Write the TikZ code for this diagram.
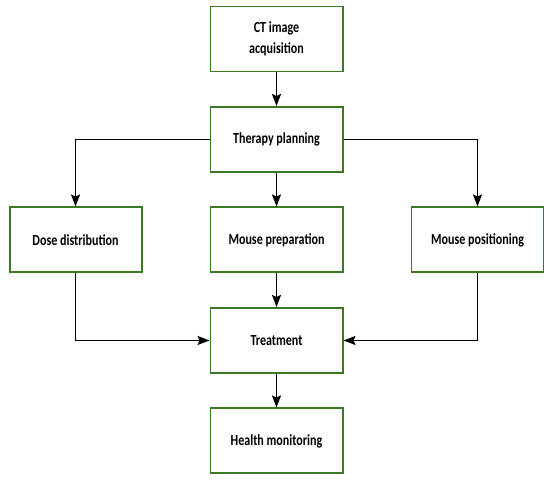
\documentclass[tikz,border=0pt]{standalone}
\usepackage{fontspec}
\setmainfont{Carlito}[FakeStretch=0.78]
\usetikzlibrary{arrows.meta,positioning}
\definecolor{BoxGreen}{HTML}{3B7A23}
\tikzset{
  stage/.style={draw=BoxGreen, line width=2pt, align=center, fill=white, minimum width=132bp, minimum height=65bp, inner sep=3pt, font=\bfseries\fontsize{15.5}{21}\selectfont},
  arr/.style={-{Stealth[length=12bp,width=9bp,inset=2bp]}, line width=1.6pt}
}
\begin{document}
\begin{tikzpicture}[node distance=33.5bp and 67bp]
\useasboundingbox (0,0) rectangle (550bp,-480bp);
\node[stage] (ct) at (276.5bp,-39bp) {CT image\\acquisition};
\node[stage, below=of ct] (plan) {Therapy planning};
\node[stage, below=of plan] (prep) {Mouse preparation};
\node[stage, left=of prep] (dose) {Dose distribution};
\node[stage, right=of prep] (pos) {Mouse positioning};
\node[stage, below=of prep] (treat) {Treatment};
\node[stage, below=of treat] (health) {Health monitoring};
\draw[arr] (ct) -- (plan);
\draw[arr] (plan.west) -| (dose.north);
\draw[arr] (plan) -- (prep);
\draw[arr] (plan.east) -| (pos.north);
\draw[arr] (dose.south) |- (treat.west);
\draw[arr] (prep) -- (treat);
\draw[arr] (pos.south) |- (treat.east);
\draw[arr] (treat) -- (health);
\end{tikzpicture}
\end{document}
